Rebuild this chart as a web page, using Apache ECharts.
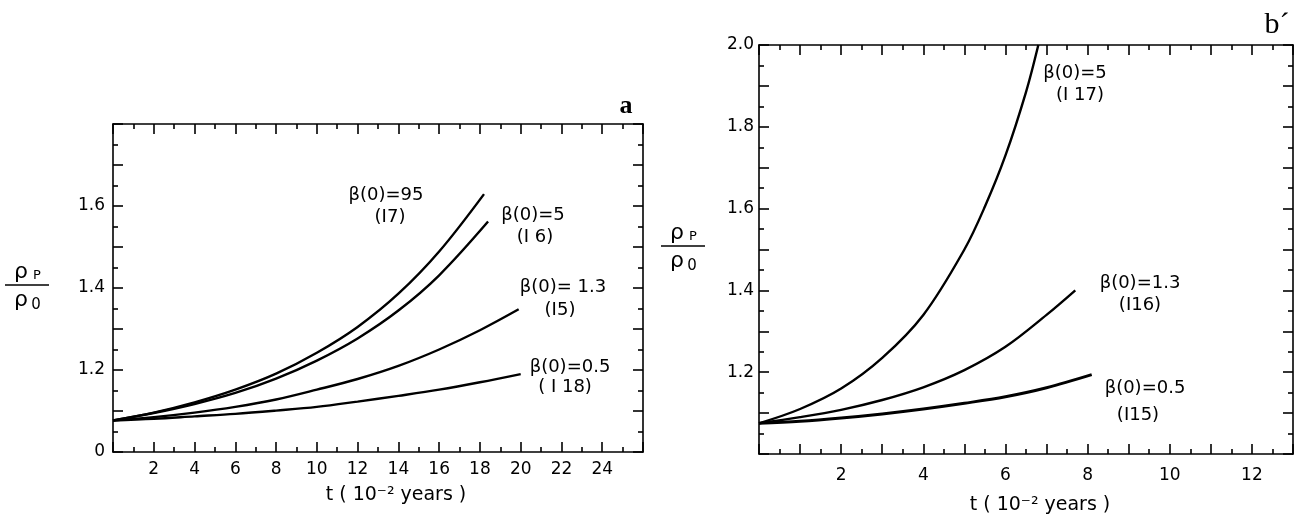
<!DOCTYPE html>
<html lang="en">
<head>
  <meta charset="UTF-8">
  <title>rho_p / rho_0</title>
  <script src="https://cdn.jsdelivr.net/npm/echarts@6/dist/echarts.min.js"></script>
  <style>
    html, body { margin: 0; padding: 0; background: #fff; }
  </style>
</head>
<body>
  <div id="main" style="width: 1298px;height: 522px;"></div>
  <script type="text/javascript">
    // panel a : t (1e-2 years) vs rho_p/rho_0
    var tA95 = [0, 2, 4, 6, 8, 10, 12, 14, 16, 18.2]
    var yA95 = [1.077, 1.096, 1.121, 1.152, 1.191, 1.242, 1.305, 1.386, 1.489, 1.629]
    var tA5 = [0, 2, 4, 6, 8, 10, 12, 14, 16, 18.4]
    var yA5 = [1.077, 1.095, 1.117, 1.144, 1.179, 1.223, 1.277, 1.345, 1.431, 1.562]
    var tA13 = [0, 2, 4, 6, 8, 10, 12, 14, 16, 18, 19.9]
    var yA13 = [1.077, 1.085, 1.096, 1.11, 1.128, 1.152, 1.178, 1.21, 1.25, 1.297, 1.348]
    var tA05 = [0, 2, 4, 6, 8, 10, 12, 14, 16, 18, 20]
    var yA05 = [1.077, 1.081, 1.087, 1.093, 1.101, 1.11, 1.123, 1.137, 1.152, 1.17, 1.19]

    // panel b
    var tB5 = [0, 1, 2, 3, 4, 5, 5.5, 6, 6.5, 6.8]
    var yB5 = [1.075, 1.11, 1.16, 1.235, 1.34, 1.5, 1.605, 1.73, 1.885, 2.0]
    var tB13 = [0, 1, 2, 3, 4, 5, 6, 7, 7.7]
    var yB13 = [1.075, 1.09, 1.108, 1.132, 1.163, 1.205, 1.262, 1.34, 1.40]
    var tB05 = [0, 1, 2, 3, 4, 5, 6, 7, 8.1]
    var yB05 = [1.075, 1.08, 1.088, 1.098, 1.11, 1.124, 1.14, 1.162, 1.194]

    var yLabelsA = [1.0, 1.2, 1.4, 1.6]
    var yLabelsB = [1.2, 1.4, 1.6, 1.8, 2.0]
    var xLabelsB = [2, 4, 6, 8, 10, 12]

    var FONT = 'DejaVu Sans'
    var black = '#000'

    function pairs(t, y) {
      return t.map(function (v, i) { return [v, y[i]] })
    }

    function frameAxis(extra) {
      var base = {
        type: 'value',
        axisLine: { show: true, onZero: false, lineStyle: { color: black, width: 1.6 } },
        axisTick: { show: true, inside: true, length: 10, lineStyle: { color: black, width: 1.6 } },
        minorTick: { show: true, splitNumber: 2, length: 5, lineStyle: { color: black, width: 1.6 } },
        splitLine: { show: false },
        axisLabel: { show: false }
      }
      return Object.assign(base, extra)
    }

    var labelStyle = { color: black, fontFamily: FONT, fontSize: 17 }

    function curve(name, t, y, xi, yi, w) {
      return {
        name: name,
        type: 'line',
        xAxisIndex: xi,
        yAxisIndex: yi,
        data: pairs(t, y),
        smooth: 0.35,
        showSymbol: false,
        silent: true,
        lineStyle: { color: black, width: w || 2.4 }
      }
    }

    function txt(x, y, s, size, font, weight) {
      return {
        type: 'text', x: x, y: y,
        style: {
          text: s, fill: black, font: (weight || 'normal') + ' ' + (size || 18) + 'px "' + (font || FONT) + '"',
          align: 'center', verticalAlign: 'middle'
        }
      }
    }

    function rhoFrac(cx, cy) {
      return [
        txt(cx - 6, cy - 13, 'ρ', 22),
        txt(cx + 10, cy - 9, 'P', 13),
        { type: 'line', shape: { x1: cx - 22, y1: cy, x2: cx + 22, y2: cy }, style: { stroke: black, lineWidth: 1.6 } },
        txt(cx - 6, cy + 15, 'ρ', 22),
        txt(cx + 9, cy + 20, '0', 15)
      ]
    }

    var myChart = echarts.init(document.getElementById('main'))

    myChart.setOption({
      backgroundColor: '#fff',
      animation: false,
      grid: [
        { left: 113, top: 124, width: 530, height: 328 },
        { left: 759, top: 45, width: 534, height: 409 }
      ],
      xAxis: [
        frameAxis({
          gridIndex: 0, position: 'bottom', min: 0, max: 26, interval: 2,
          name: 't ( 10⁻² years )', nameLocation: 'middle', nameGap: 34,
          nameTextStyle: { color: black, fontFamily: FONT, fontSize: 19, padding: [0, 0, 0, 36] },
          axisLabel: Object.assign({
            show: true, margin: 9,
            formatter: function (v) { return (v === 0 || v === 26) ? '' : String(v) }
          }, labelStyle)
        }),
        frameAxis({ gridIndex: 0, position: 'top', min: 0, max: 26, interval: 2 }),
        frameAxis({
          gridIndex: 1, position: 'bottom', min: 0, max: 13, interval: 1,
          name: 't ( 10⁻² years )', nameLocation: 'middle', nameGap: 42,
          nameTextStyle: { color: black, fontFamily: FONT, fontSize: 19, padding: [0, 0, 0, 28] },
          axisLabel: Object.assign({ show: true, margin: 13, customValues: xLabelsB }, labelStyle)
        }),
        frameAxis({ gridIndex: 1, position: 'top', min: 0, max: 13, interval: 1 })
      ],
      yAxis: [
        frameAxis({
          gridIndex: 0, position: 'left', min: 1.0, max: 1.8, interval: 0.1,
          axisLabel: Object.assign({
            show: true, margin: 8, customValues: yLabelsA,
            formatter: function (v) { return Math.abs(v - 1) < 1e-6 ? '0' : v.toFixed(1) }
          }, labelStyle)
        }),
        frameAxis({ gridIndex: 0, position: 'right', min: 1.0, max: 1.8, interval: 0.1 }),
        frameAxis({
          gridIndex: 1, position: 'left', min: 1.0, max: 2.0, interval: 0.1,
          axisLabel: Object.assign({
            show: true, margin: 5, customValues: yLabelsB,
            formatter: function (v) { return v.toFixed(1) }
          }, labelStyle)
        }),
        frameAxis({ gridIndex: 1, position: 'right', min: 1.0, max: 2.0, interval: 0.1 })
      ],
      series: [
        curve('β(0)=95', tA95, yA95, 0, 0),
        curve('β(0)=5', tA5, yA5, 0, 0),
        curve('β(0)=1.3', tA13, yA13, 0, 0),
        curve('β(0)=0.5', tA05, yA05, 0, 0),
        curve('β(0)=5 b', tB5, yB5, 2, 2),
        curve('β(0)=1.3 b', tB13, yB13, 2, 2),
        curve('β(0)=0.5 b', tB05, yB05, 2, 2, 3)
      ],
      graphic: [].concat(
        rhoFrac(27, 285),
        rhoFrac(683, 246),
        [
          txt(386, 195, 'β(0)=95'), txt(390, 217, '(I7)'),
          txt(533, 215, 'β(0)=5'), txt(535, 237, '(I 6)'),
          txt(563, 287, 'β(0)= 1.3'), txt(560, 310, '(I5)'),
          txt(570, 367, 'β(0)=0.5'), txt(565, 387, '( I 18)'),
          txt(1075, 73, 'β(0)=5'), txt(1080, 95, '(I 17)'),
          txt(1140, 283, 'β(0)=1.3'), txt(1140, 305, '(I16)'),
          txt(1145, 388, 'β(0)=0.5'), txt(1138, 415, '(I15)'),
          txt(626, 106, 'a', 26, 'Liberation Serif', 'bold'),
          txt(1277, 25, 'b´', 30, 'Liberation Serif')
        ]
      )
    })
  </script>
</body>
</html>
